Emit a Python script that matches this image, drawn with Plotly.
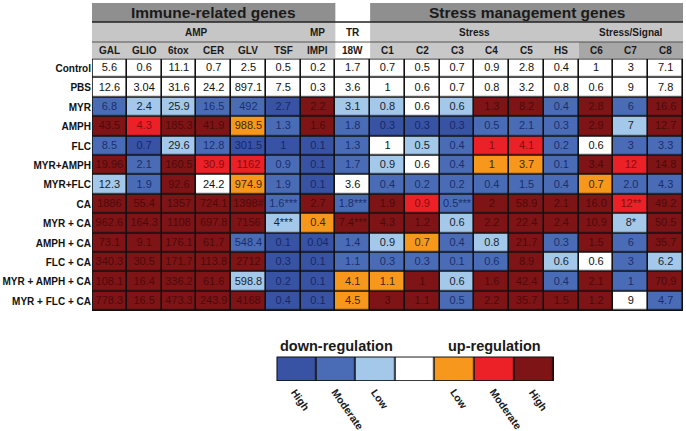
import plotly.graph_objects as go

# ---------------- data ----------------
gene_labels = ["GAL", "GLIO", "6tox", "CER", "GLV", "TSF", "IMPI", "18W",
               "C1", "C2", "C3", "C4", "C5", "HS", "C6", "C7", "C8"]
row_labels = ["Control", "PBS", "MYR", "AMPH", "FLC", "MYR+AMPH", "MYR+FLC", "CA",
              "MYR + CA", "AMPH + CA", "FLC + CA", "MYR + AMPH + CA", "MYR + FLC + CA"]

vals_control = ["5.6", "0.6", "11.1", "0.7", "2.5", "0.5", "0.2", "1.7", "0.7", "0.5", "0.7", "0.9", "2.8", "0.4", "1", "3", "7.1"]
vals_pbs = ["12.6", "3.04", "31.6", "24.2", "897.1", "7.5", "0.3", "3.6", "1", "0.6", "0.7", "0.8", "3.2", "0.8", "0.6", "9", "7.8"]
vals_myr = ["6.8", "2.4", "25.9", "16.5", "492", "2.7", "2.2", "3.1", "0.8", "0.6", "0.6", "1.3", "8.2", "0.4", "2.8", "6", "16.6"]
vals_amph = ["43.5", "4.3", "185.3", "41.9", "988.5", "1.3", "1.6", "1.8", "0.3", "0.3", "0.3", "0.5", "2.1", "0.3", "2.9", "7", "12.7"]
vals_flc = ["8.5", "0.7", "29.6", "12.8", "301.5", "1", "0.1", "1.3", "1", "0.5", "0.4", "1", "4.1", "0.2", "0.6", "3", "3.3"]
vals_myr_amph = ["19.96", "2.1", "160.5", "30.9", "1162", "0.9", "0.1", "1.7", "0.9", "0.6", "0.4", "1", "3.7", "0.1", "3.4", "12", "14.8"]
vals_myr_flc = ["12.3", "1.9", "92.6", "24.2", "974.9", "1.9", "0.1", "3.6", "0.4", "0.2", "0.2", "0.4", "1.5", "0.4", "0.7", "2.0", "4.3"]
vals_ca = ["1886", "55.4", "1357", "724.1", "1398#", "1.6***", "2.7", "1.8***", "1.9", "0.9", "0.5***", "2", "58.9", "2.1", "16.0", "12**", "49.2"]
vals_myr_ca = ["962.6", "164.3", "1108", "697.8", "7156", "4***", "0.4", "7.4***", "4.3", "1.2", "0.6", "2.2", "22.4", "2.4", "10.9", "8*", "50.5"]
vals_amph_ca = ["73.1", "9.1", "176.1", "61.7", "548.4", "0.1", "0.04", "1.4", "0.9", "0.7", "0.4", "0.8", "21.7", "0.3", "1.5", "6", "35.7"]
vals_flc_ca = ["340.3", "30.5", "171.7", "113.8", "2712", "0.3", "0.1", "1.1", "0.3", "0.3", "0.1", "0.6", "8.9", "0.6", "0.6", "3", "6.2"]
vals_myr_amph_ca = ["108.1", "16.4", "336.2", "61.6", "598.8", "0.2", "0.1", "4.1", "1.1", "1", "0.6", "1.6", "42.4", "0.4", "2.1", "1", "70.9"]
vals_myr_flc_ca = ["778.3", "16.5", "473.3", "243.9", "4168", "0.4", "0.1", "4.5", "3", "1.1", "0.5", "2.2", "35.7", "1.5", "1.2", "9", "4.7"]

# regulation level: B=high down, b=moderate down, l=low down, w=none, o=low up, r=moderate up, R=high up
lvl_control = "w w w w w w w w w w w w w w w w w"
lvl_pbs = "w w w w w w w w w w w w w w w w w"
lvl_myr = "b l l b b B R l l w l R R b R b R"
lvl_amph = "R r R R o b R b B B B b b b R l R"
lvl_flc = "b B l b B B B b w l b r r b w b b"
lvl_myr_amph = "R b R r r b B b l w b o o b R r R"
lvl_myr_flc = "l b R w o b B w b b b b b b o b b"
lvl_ca = "R R R R R b R b R r b R R R R r R"
lvl_myr_ca = "R R R R R l o R R R l R R R R l R"
lvl_amph_ca = "R R R R b B B b l o b l R b R b R"
lvl_flc_ca = "R R R R R B B b b b b b R l w b l"
lvl_myr_amph_ca = "R R R R l B B o o R l R R b R b R"
lvl_myr_flc_ca = "R R R R R B B o R R b R R R R w b"

legend_levels = ["High", "Moderate", "Low", "", "Low", "Moderate", "High"]

all_vals = [vals_control, vals_pbs, vals_myr, vals_amph, vals_flc, vals_myr_amph, vals_myr_flc,
            vals_ca, vals_myr_ca, vals_amph_ca, vals_flc_ca, vals_myr_amph_ca, vals_myr_flc_ca]
all_lvls = [lvl_control, lvl_pbs, lvl_myr, lvl_amph, lvl_flc, lvl_myr_amph, lvl_myr_flc,
            lvl_ca, lvl_myr_ca, lvl_amph_ca, lvl_flc_ca, lvl_myr_amph_ca, lvl_myr_flc_ca]

# ---------------- styling ----------------
codes = "BblworR"
cell_colors = ["#3953a4", "#4a6cb6", "#a3c8ea", "#ffffff", "#f7981d", "#ec2027", "#7e1416"]
text_colors = ["#17286a", "#1b2f6e", "#1a1f2e", "#111111", "#3a2808", "#8a0c10", "#4e0a0b"]

W, H = 686, 431
def px(p):
    return p / W
def py(p):
    return 1 - p / H

TL, TR_, TT, TB = 92, 683, 58.7, 310.9
FONT = "Liberation Sans, Arial, sans-serif"

n_cols = len(gene_labels)
n_rows = len(row_labels)

z = [[codes.index(c) for c in lv.split()] for lv in all_lvls]
colorscale = []
for k, c in enumerate(cell_colors):
    colorscale.append([k / 7, c])
    colorscale.append([(k + 1) / 7, c])

fig = go.Figure()
fig.add_trace(go.Heatmap(
    z=z, x=list(range(n_cols)), y=list(range(n_rows)),
    colorscale=colorscale, zmin=-0.5, zmax=6.5, showscale=False,
    xgap=1.6, ygap=1.6, hoverinfo="skip", xaxis="x", yaxis="y"))

tx, ty, tt, tc = [], [], [], []
for i, (vals, lv) in enumerate(zip(all_vals, all_lvls)):
    for j, (v, c) in enumerate(zip(vals, lv.split())):
        tx.append(j); ty.append(i); tt.append(v); tc.append(text_colors[codes.index(c)])
fig.add_trace(go.Scatter(
    x=tx, y=ty, text=tt, mode="text", textposition="middle center",
    textfont=dict(family=FONT, size=11, color=tc), hoverinfo="skip",
    xaxis="x", yaxis="y", showlegend=False))

# legend bar
fig.add_trace(go.Heatmap(
    z=[list(range(7))], x=list(range(7)), y=[0],
    colorscale=colorscale, zmin=-0.5, zmax=6.5, showscale=False,
    xgap=1.6, ygap=0, hoverinfo="skip", xaxis="x2", yaxis="y2"))

shapes = []
def band(x0, x1, y0, y1, color):
    shapes.append(dict(type="rect", xref="x", yref="paper", x0=x0, x1=x1, y0=py(y1), y1=py(y0),
                       fillcolor=color, line=dict(width=0), layer="below"))
band(-0.5, 6.5, 3, 22, "#8f8f8f")
band(7.5, 16.5, 3, 22, "#8f8f8f")
band(-0.5, 6.5, 22, 42, "#c6c6c6")
band(7.5, 16.5, 22, 42, "#c6c6c6")
band(-0.5, 6.5, 42, TT, "#c8c8c8")
band(7.5, 13.5, 42, TT, "#c8c8c8")
band(13.5, 16.5, 42, TT, "#a7a7a7")
for yy, wdt, col in [(22, 1.4, "#222222"), (42, 1.0, "#555555")]:
    shapes.append(dict(type="line", xref="x", yref="paper", x0=-0.5, x1=16.5, y0=py(yy), y1=py(yy),
                       line=dict(color=col, width=wdt)))
shapes.append(dict(type="rect", xref="x", yref="y", x0=-0.5, x1=n_cols - 0.5, y0=-0.5, y1=n_rows - 0.5,
                   line=dict(color="#111111", width=1.6)))
shapes.append(dict(type="rect", xref="x2", yref="y2", x0=-0.5, x1=6.5, y0=-0.5, y1=0.5,
                   line=dict(color="#111111", width=1.6)))

annotations = []
def ann(text, x, y, size, xref="x", bold=True, xanchor="center", yanchor="middle", **kw):
    annotations.append(dict(text=("<b>%s</b>" % text) if bold else text, x=x, y=y, xref=xref, yref="paper",
                            xanchor=xanchor, yanchor=yanchor, showarrow=False,
                            font=dict(family=FONT, size=size, color="#1a1a1a"), **kw))

ann("Immune-related genes", 3, py(12.5), 15.5)
ann("Stress management genes", 12, py(12.5), 15.5)
ann("AMP", 2.5, py(32), 10)
ann("MP", 6, py(32), 10)
ann("TR", 7, py(32), 10)
ann("Stress", 10.5, py(32), 10)
ann("Stress/Signal", 15, py(32), 10)
for j, g in enumerate(gene_labels):
    ann(g, j, py(50.5), 10)

ann("down-regulation", 1, py(346), 14.5, xref="x2")
ann("up-regulation", 5, py(346), 14.5, xref="x2")
for k, lab in enumerate(legend_levels):
    if lab:
        ann(lab, k - 0.25, py(384), 10.5, xref="x2", textangle=55, xanchor="left", yanchor="top")

fig.update_layout(
    width=W, height=H, margin=dict(l=0, r=0, t=0, b=0),
    paper_bgcolor="white", plot_bgcolor="#111111", showlegend=False,
    xaxis=dict(domain=[px(TL), px(TR_)], range=[-0.5, n_cols - 0.5], showgrid=False, zeroline=False,
               showticklabels=False, fixedrange=True),
    yaxis=dict(domain=[py(TB), py(TT)], range=[n_rows - 0.5, -0.5], showgrid=False, zeroline=False,
               tickmode="array", tickvals=list(range(n_rows)),
               ticktext=["<b>%s</b>" % r for r in row_labels], ticks="",
               tickfont=dict(family=FONT, size=10, color="#111111"), fixedrange=True),
    xaxis2=dict(domain=[px(276.7), px(554)], range=[-0.5, 6.5], showgrid=False, zeroline=False,
                showticklabels=False, anchor="y2", fixedrange=True),
    yaxis2=dict(domain=[py(381), py(356.7)], range=[-0.5, 0.5], showgrid=False, zeroline=False,
                showticklabels=False, anchor="x2", fixedrange=True),
    shapes=shapes, annotations=annotations,
)

fig.write_html("out.html", config={"displayModeBar": False},
               post_script="document.body.style.margin='0px';document.body.style.overflow='hidden';")
